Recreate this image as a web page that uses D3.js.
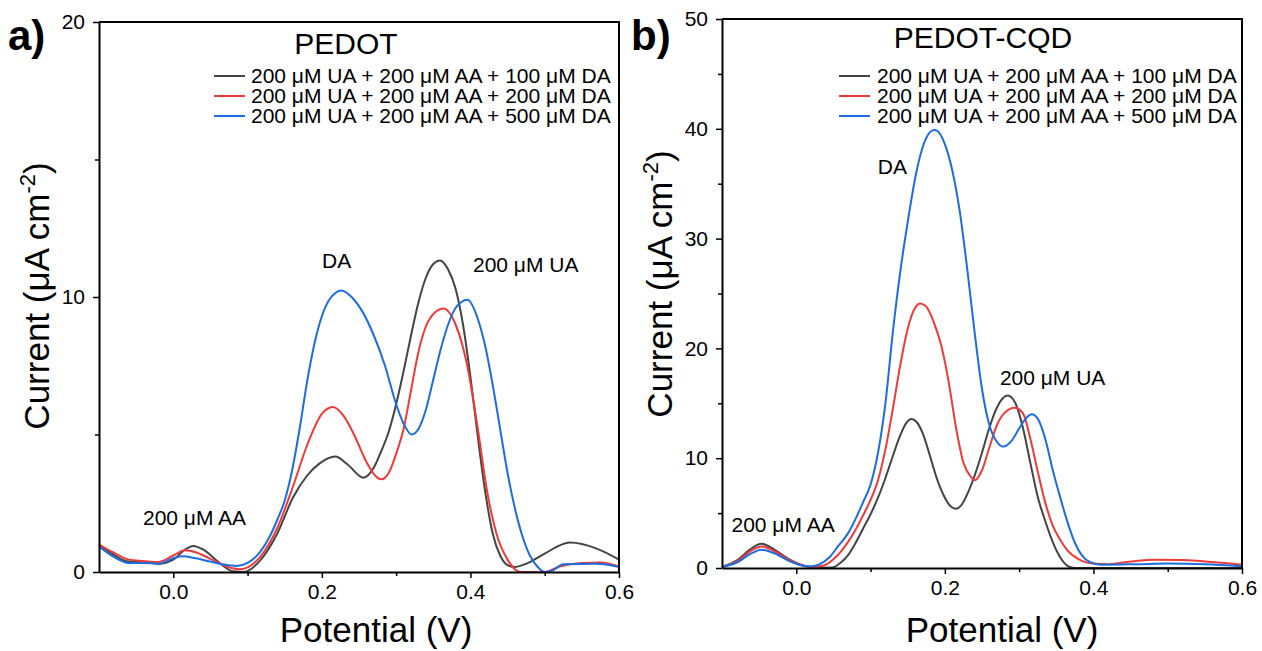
<!DOCTYPE html>
<html>
<head>
<meta charset="utf-8">
<script src="https://cdn.jsdelivr.net/npm/d3@7"></script>
<style>
body { margin: 0; background: #fff; }
svg text { font-family: "Liberation Sans", Arial, sans-serif; fill: #000; }
</style>
</head>
<body>
<svg id="chart"></svg>
<script>
// SVG size
var width = 1262;
var height = 651;

// Legend texts and colours
var seriesLabels = [
    "200 μM UA + 200 μM AA + 100 μM DA",
    "200 μM UA + 200 μM AA + 200 μM DA",
    "200 μM UA + 200 μM AA + 500 μM DA"
];
var seriesColors = ["#444444", "#ef3a3a", "#1d6ce0"];

var xTicks = [0.0, 0.2, 0.4, 0.6];
var xMinor = [0.1, 0.3, 0.5];
var yTicksA = [0, 10, 20];
var yMinorA = [5, 15];
var yTicksB = [0, 10, 20, 30, 40, 50];
var yMinorB = [5, 15, 25, 35, 45];

// Panel a) PEDOT : [potential V, current uA/cm2]
var aBlack = [[-0.10,1.0],[-0.08,0.62],[-0.06,0.38],[-0.04,0.36],[-0.02,0.3],[0.0,0.45],[0.015,0.8],[0.027,0.95],[0.04,0.82],[0.06,0.38],[0.08,0.03],[0.095,0.0],[0.117,0.42],[0.14,1.4],[0.161,2.7],[0.18,3.5],[0.197,3.95],[0.218,4.2],[0.235,3.9],[0.256,3.43],[0.27,3.8],[0.28,4.4],[0.29,5.1],[0.3,6.1],[0.31,7.3],[0.32,8.6],[0.33,9.8],[0.34,10.7],[0.35,11.2],[0.359,11.33],[0.37,11.0],[0.38,10.3],[0.39,9.0],[0.4,7.1],[0.41,4.9],[0.42,2.9],[0.43,1.4],[0.44,0.6],[0.45,0.25],[0.46,0.18],[0.47,0.25],[0.48,0.36],[0.5,0.67],[0.534,1.07],[0.57,0.85],[0.6,0.45]];
var aRed = [[-0.10,1.0],[-0.08,0.7],[-0.06,0.45],[-0.04,0.4],[-0.02,0.36],[0.0,0.6],[0.016,0.79],[0.03,0.72],[0.05,0.48],[0.07,0.22],[0.09,0.1],[0.117,0.55],[0.14,1.6],[0.161,3.1],[0.18,4.6],[0.2,5.75],[0.215,6.0],[0.23,5.65],[0.245,4.9],[0.26,4.0],[0.272,3.5],[0.28,3.37],[0.29,3.6],[0.3,4.3],[0.31,5.2],[0.32,6.6],[0.33,8.0],[0.345,9.2],[0.3635,9.58],[0.38,9.0],[0.395,7.6],[0.41,5.2],[0.422,3.0],[0.435,1.4],[0.45,0.45],[0.467,0.0],[0.5,0.0],[0.52,0.2],[0.55,0.33],[0.575,0.35],[0.6,0.2]];
var aBlue = [[-0.10,0.93],[-0.08,0.55],[-0.06,0.33],[-0.04,0.33],[-0.02,0.3],[0.0,0.5],[0.012,0.57],[0.03,0.5],[0.05,0.38],[0.07,0.26],[0.085,0.22],[0.1,0.33],[0.117,0.73],[0.13,1.3],[0.14,1.9],[0.15,2.6],[0.16,3.7],[0.17,5.2],[0.18,6.9],[0.19,8.3],[0.2,9.3],[0.21,9.9],[0.2267,10.24],[0.24,10.0],[0.255,9.45],[0.27,8.6],[0.285,7.5],[0.3,6.1],[0.31,5.4],[0.321,5.0],[0.33,5.2],[0.34,5.9],[0.35,7.0],[0.36,8.1],[0.37,9.0],[0.38,9.6],[0.396,9.9],[0.41,9.2],[0.42,8.2],[0.43,6.8],[0.44,5.2],[0.45,3.6],[0.46,2.3],[0.47,1.3],[0.48,0.6],[0.49,0.2],[0.5,0.0],[0.51,0.05],[0.525,0.28],[0.57,0.3],[0.6,0.18]];

// Panel b) PEDOT-CQD
var bBlack = [[-0.1,0.1],[-0.08,0.7],[-0.06,1.8],[-0.047,2.2],[-0.03,1.7],[-0.01,0.8],[0.01,0.2],[0.025,0.03],[0.049,0.05],[0.06,0.5],[0.07,1.2],[0.08,2.3],[0.09,3.6],[0.1,4.9],[0.11,6.4],[0.12,8.2],[0.13,10.2],[0.14,12.1],[0.148,13.2],[0.155,13.57],[0.162,13.3],[0.17,12.3],[0.18,10.2],[0.19,8.0],[0.2,6.4],[0.208,5.6],[0.215,5.4],[0.222,5.7],[0.23,6.7],[0.24,8.4],[0.25,10.5],[0.26,12.8],[0.27,14.6],[0.2845,15.7],[0.295,15.0],[0.305,12.8],[0.315,9.6],[0.325,6.5],[0.335,4.3],[0.345,2.4],[0.355,1.0],[0.365,0.2],[0.375,0.0],[0.6,0.0]];
var bRed = [[-0.1,0.1],[-0.08,0.6],[-0.06,1.6],[-0.047,1.96],[-0.03,1.55],[-0.01,0.75],[0.01,0.2],[0.022,0.08],[0.036,0.2],[0.05,0.8],[0.06,1.5],[0.07,2.4],[0.08,3.5],[0.09,4.8],[0.1,6.2],[0.11,8.0],[0.12,10.8],[0.13,14.5],[0.14,18.5],[0.15,21.8],[0.16,23.7],[0.167,24.1],[0.175,23.8],[0.185,22.4],[0.195,20.3],[0.205,17.0],[0.215,12.8],[0.225,9.6],[0.235,8.3],[0.2404,8.0],[0.25,8.9],[0.26,11.0],[0.27,13.0],[0.28,14.1],[0.294,14.6],[0.305,14.1],[0.315,11.8],[0.325,8.8],[0.335,6.0],[0.345,3.9],[0.355,2.6],[0.365,1.6],[0.38,0.8],[0.4,0.4],[0.42,0.35],[0.44,0.5],[0.48,0.75],[0.52,0.72],[0.56,0.55],[0.6,0.3]];
var bBlue = [[-0.1,0.1],[-0.08,0.5],[-0.06,1.35],[-0.047,1.66],[-0.03,1.35],[-0.01,0.65],[0.01,0.2],[0.02,0.15],[0.03,0.3],[0.045,1.0],[0.056,1.96],[0.07,3.2],[0.08,4.5],[0.09,6.0],[0.1,7.6],[0.11,10.5],[0.12,15.0],[0.13,21.5],[0.14,27.0],[0.15,31.5],[0.16,35.5],[0.17,38.3],[0.18,39.7],[0.1856,39.9],[0.19,39.8],[0.2,38.6],[0.21,36.2],[0.22,32.5],[0.23,27.3],[0.24,21.5],[0.25,16.3],[0.26,13.0],[0.27,11.5],[0.2786,11.06],[0.29,11.6],[0.3,12.7],[0.31,13.7],[0.317,14.0],[0.325,13.6],[0.335,11.8],[0.345,9.0],[0.355,6.5],[0.365,4.2],[0.375,2.3],[0.385,1.1],[0.395,0.55],[0.41,0.3],[0.46,0.35],[0.5,0.4],[0.55,0.35],[0.6,0.15]];

var svg = d3.select("#chart")
    .attr("width", width)
    .attr("height", height)
    .style("display", "block");

svg.append("rect").attr("width", width).attr("height", height).attr("fill", "#fff");

var panels = [
    {
        letter: "a)", title: "PEDOT", left: 99, right: 619, top: 22, bottom: 572,
        yMax: 20, yTicks: yTicksA, yMinor: yMinorA,
        series: [aBlack, aRed, aBlue],
        letterX: 8, titleX: 346, titleY: 54, yTitleX: 49, yTitleY: 296, xTitleX: 376,
        legendX: 214, legendTextX: 251,
        notes: [
            { text: "DA", x: 0.2002, y: 11.04 },
            { text: "200 μM UA", x: 0.4034, y: 10.9 },
            { text: "200 μM AA", x: -0.0408, y: 1.7 }
        ]
    },
    {
        letter: "b)", title: "PEDOT-CQD", left: 722, right: 1242, top: 19, bottom: 568,
        yMax: 50, yTicks: yTicksB, yMinor: yMinorB,
        series: [bBlack, bRed, bBlue],
        letterX: 631, titleX: 983, titleY: 48, yTitleX: 672, yTitleY: 284, xTitleX: 1002,
        legendX: 839, legendTextX: 877,
        notes: [
            { text: "DA", x: 0.1097, y: 35.9 },
            { text: "200 μM UA", x: 0.2741, y: 16.66 },
            { text: "200 μM AA", x: -0.0872, y: 3.3 }
        ]
    }
];

panels.forEach(drawPanel);

function drawPanel(p) {
    var xScale = d3.scaleLinear().domain([-0.1, 0.6]).range([p.left, p.right]);
    var yScale = d3.scaleLinear().domain([0, p.yMax]).range([p.bottom, p.top]);
    var g = svg.append("g");

    // curves
    var line = d3.line()
        .x(d => xScale(d[0]))
        .y(d => yScale(d[1]))
        .curve(d3.curveMonotoneX);

    p.series.forEach(function(s, i) {
        g.append("path")
            .attr("d", line(s))
            .attr("fill", "none")
            .attr("stroke", seriesColors[i])
            .attr("stroke-width", 2);
    });

    // frame (top + right)
    g.append("path")
        .attr("d", "M" + p.left + "," + p.top + "H" + p.right + "V" + p.bottom)
        .attr("fill", "none")
        .attr("stroke", "#000")
        .attr("stroke-width", 2);

    // axes
    g.append("g")
        .attr("transform", "translate(0," + p.bottom + ")")
        .call(d3.axisBottom(xScale).tickValues(xTicks).tickSize(6).tickSizeOuter(0).tickPadding(6).tickFormat(d3.format(".1f")));
    g.append("g")
        .attr("transform", "translate(0," + p.bottom + ")")
        .call(d3.axisBottom(xScale).tickValues(xMinor).tickSize(4).tickSizeOuter(0).tickFormat(""))
        .select(".domain").remove();

    g.append("g")
        .attr("transform", "translate(" + p.left + ",0)")
        .call(d3.axisLeft(yScale).tickValues(p.yTicks).tickSize(6).tickSizeOuter(0).tickPadding(8));
    g.append("g")
        .attr("transform", "translate(" + p.left + ",0)")
        .call(d3.axisLeft(yScale).tickValues(p.yMinor).tickSize(4).tickSizeOuter(0).tickFormat(""))
        .select(".domain").remove();

    g.selectAll(".domain").attr("stroke", "#000").attr("stroke-width", 2);
    g.selectAll(".tick line").attr("stroke", "#000").attr("stroke-width", 1.5);
    g.selectAll(".tick text")
        .style("font-family", "'Liberation Sans', Arial, sans-serif")
        .style("font-size", "21px")
        .attr("fill", "#000");

    // axis titles
    g.append("text")
        .attr("x", p.xTitleX)
        .attr("y", 642)
        .attr("text-anchor", "middle")
        .style("font-size", "35px")
        .text("Potential (V)");

    var yt = g.append("text")
        .attr("transform", "translate(" + p.yTitleX + "," + p.yTitleY + ") rotate(-90)")
        .attr("text-anchor", "middle")
        .style("font-size", "35px");
    yt.append("tspan").text("Current (μA cm");
    yt.append("tspan").attr("dy", -14).style("font-size", "22px").text("-2");
    yt.append("tspan").attr("dy", 14).text(")");

    // panel letter and title
    g.append("text")
        .attr("x", p.letterX)
        .attr("y", 50)
        .style("font-size", "42px")
        .style("font-weight", "bold")
        .text(p.letter);

    g.append("text")
        .attr("x", p.titleX)
        .attr("y", p.titleY)
        .attr("text-anchor", "middle")
        .style("font-size", "30px")
        .text(p.title);

    // legend
    seriesLabels.forEach(function(label, i) {
        var ly = 76 + i * 20;
        g.append("line")
            .attr("x1", p.legendX).attr("x2", p.legendX + 31)
            .attr("y1", ly).attr("y2", ly)
            .attr("stroke", seriesColors[i])
            .attr("stroke-width", 2);
        g.append("text")
            .attr("x", p.legendTextX)
            .attr("y", ly + 7)
            .style("font-size", "21px")
            .text(label);
    });

    // peak annotations
    p.notes.forEach(function(n) {
        g.append("text")
            .attr("x", xScale(n.x))
            .attr("y", yScale(n.y))
            .style("font-size", "21px")
            .text(n.text);
    });
}
</script>
</body>
</html>
